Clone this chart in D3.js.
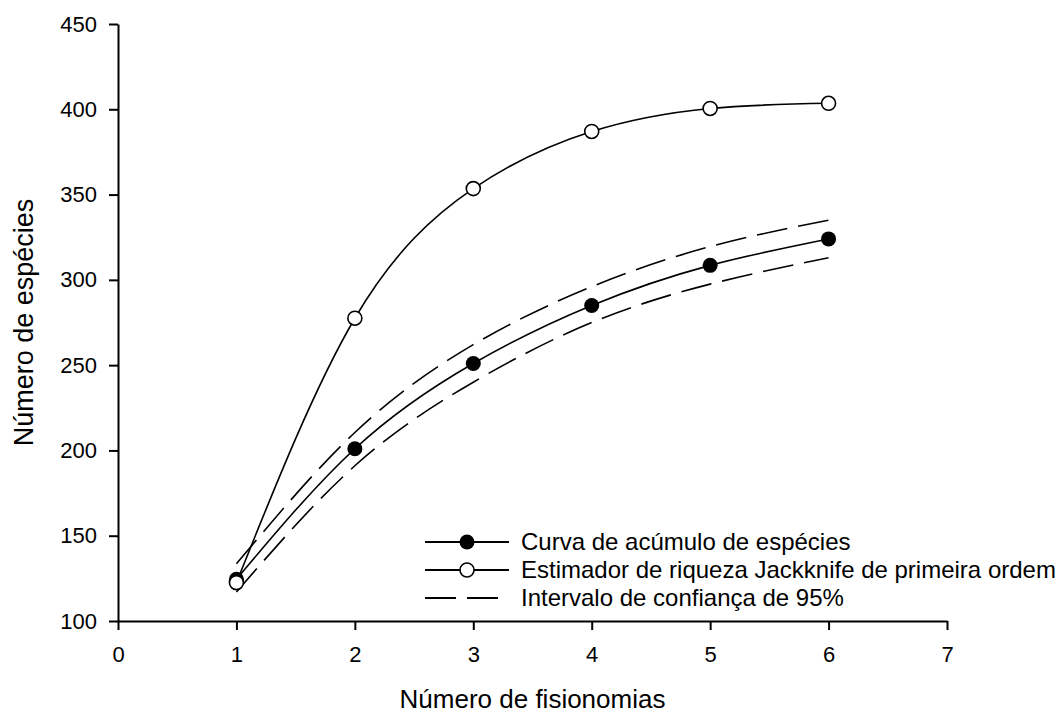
<!DOCTYPE html>
<html>
<head>
<meta charset="utf-8">
<script src="https://cdn.jsdelivr.net/npm/d3@7"></script>
<style>
  html, body { margin: 0; padding: 0; background: #fff; }
  svg { display: block; }
  text { font-family: "Liberation Sans", Arial, sans-serif; fill: #000; }
</style>
</head>
<body>
<svg id="chart" width="1057" height="715"></svg>
<script>
// Species accumulation by number of vegetation physiognomies
const fisionomias = [1, 2, 3, 4, 5, 6];
const acumulo     = [124.5, 201, 251, 285, 308.5, 324];
const jackknife   = [122.5, 277.5, 353.5, 387, 400.5, 403.5];
const icSuperior  = [133.5, 210.5, 262, 296, 319.5, 335];
const icInferior  = [117, 191, 240, 275, 297.5, 313];
const xTicks = [0, 1, 2, 3, 4, 5, 6, 7];
const yTicks = [100, 150, 200, 250, 300, 350, 400, 450];
const legendLabels = [
  "Curva de acúmulo de espécies",
  "Estimador de riqueza Jackknife de primeira ordem",
  "Intervalo de confiança de 95%"
];

const svg = d3.select("#chart");
const x = d3.scaleLinear().domain([0, 7]).range([118, 947]);
const y = d3.scaleLinear().domain([100, 450]).range([621, 24]);

const xAxis = d3.axisBottom(x).tickValues(xTicks).tickFormat(d3.format("d"))
  .tickSize(9).tickSizeOuter(0).tickPadding(16);
const yAxis = d3.axisLeft(y).tickValues(yTicks).tickFormat(d3.format("d"))
  .tickSize(9).tickSizeOuter(0).tickPadding(12);

const gx = svg.append("g").attr("transform", `translate(0,${y(100)})`).call(xAxis);
const gy = svg.append("g").attr("transform", `translate(${x(0)},0)`).call(yAxis);
[gx, gy].forEach(g => {
  g.select(".domain").attr("stroke", "#000").attr("stroke-width", 2);
  g.selectAll(".tick line").attr("stroke", "#000").attr("stroke-width", 2);
  g.selectAll(".tick text").attr("font-size", 22)
    .attr("font-family", "Liberation Sans, Arial, sans-serif").attr("fill", "#000");
});

// axis titles
svg.append("text")
  .attr("x", (x(0) + x(7)) / 2).attr("y", 708)
  .attr("text-anchor", "middle").attr("font-size", 26)
  .text("Número de fisionomias");
svg.append("text")
  .attr("transform", `translate(33,${(y(100) + y(450)) / 2}) rotate(-90)`)
  .attr("text-anchor", "middle").attr("font-size", 27)
  .text("Número de espécies");

const line = d3.line().x(d => x(d[0])).y(d => y(d[1])).curve(d3.curveNatural);
const pairs = vals => fisionomias.map((f, i) => [f, vals[i]]);

// confidence bands
[icSuperior, icInferior].forEach(vals => {
  svg.append("path").datum(pairs(vals))
    .attr("d", line).attr("fill", "none").attr("stroke", "#000")
    .attr("stroke-width", 1.6).attr("stroke-dasharray", "31,11");
});

// accumulation curve with filled markers
svg.append("path").datum(pairs(acumulo))
  .attr("d", line).attr("fill", "none").attr("stroke", "#000").attr("stroke-width", 1.6);
svg.selectAll("circle.acc").data(pairs(acumulo)).join("circle")
  .attr("class", "acc").attr("cx", d => x(d[0])).attr("cy", d => y(d[1]))
  .attr("r", 7.5).attr("fill", "#000");

// jackknife estimator with open markers
svg.append("path").datum(pairs(jackknife))
  .attr("d", line).attr("fill", "none").attr("stroke", "#000").attr("stroke-width", 1.6);
svg.selectAll("circle.jk").data(pairs(jackknife)).join("circle")
  .attr("class", "jk").attr("cx", d => x(d[0])).attr("cy", d => y(d[1]))
  .attr("r", 7).attr("fill", "#fff").attr("stroke", "#000").attr("stroke-width", 1.6);

// legend
const lg = svg.append("g");
const rows = [542, 570, 598];
const lx0 = 425, lx1 = 509, lmid = 467, ltx = 521;
lg.append("line").attr("x1", lx0).attr("x2", lx1).attr("y1", rows[0]).attr("y2", rows[0]).attr("stroke", "#000").attr("stroke-width", 1.8);
lg.append("circle").attr("cx", lmid).attr("cy", rows[0]).attr("r", 7.5).attr("fill", "#000");
lg.append("line").attr("x1", lx0).attr("x2", lx1).attr("y1", rows[1]).attr("y2", rows[1]).attr("stroke", "#000").attr("stroke-width", 1.8);
lg.append("circle").attr("cx", lmid).attr("cy", rows[1]).attr("r", 7).attr("fill", "#fff").attr("stroke", "#000").attr("stroke-width", 1.6);
lg.append("line").attr("x1", lx0).attr("x2", lx1).attr("y1", rows[2]).attr("y2", rows[2]).attr("stroke", "#000").attr("stroke-width", 1.8).attr("stroke-dasharray", "31,11");
legendLabels.forEach((t, i) => {
  lg.append("text").attr("x", ltx).attr("y", rows[i]).attr("dy", "0.35em")
    .attr("font-size", 24).text(t);
});
</script>
</body>
</html>
